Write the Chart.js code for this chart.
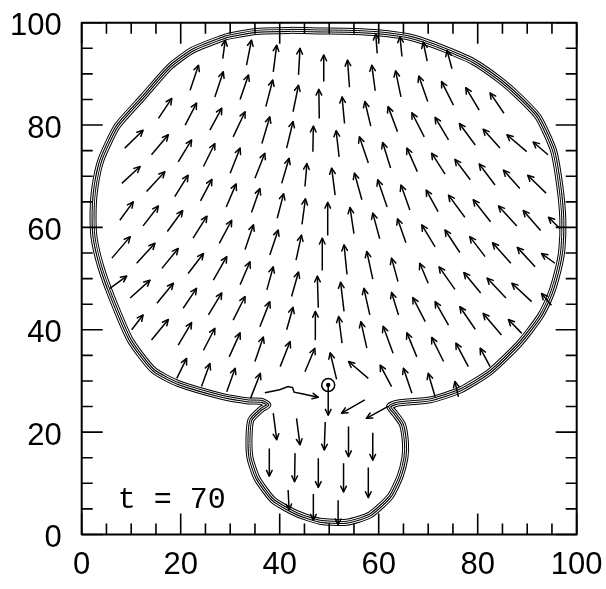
<!DOCTYPE html>
<html lang="en">
<head>
<meta charset="UTF-8" />
<title>Flow field, t = 70</title>
<script src="https://cdn.jsdelivr.net/npm/chart.js"></script>
<style>
  html, body { margin: 0; padding: 0; background: #fff; }
  canvas { display: block; }
</style>
</head>
<body>
<canvas id="chartCanvas" width="606" height="589"></canvas>
<script>
  // tick values (labels on both axes) and minor tick marks
  const tickValues = [0, 20, 40, 60, 80, 100];
  const minorTicks = [5, 10, 15, 25, 30, 35, 45, 50, 55, 65, 70, 75, 85, 90, 95];
  const timeLabel = 't = 70';

  // arrows: [tailX, tailY, tipX, tipY], one list per row of markers
  const row0 = [[59.7,94.0,59.4,97.8],[64.7,93.4,64.3,97.3],[69.8,92.5,69.0,96.2],[74.8,91.0,73.8,94.6]];
  const row1 = [[28.5,93.0,29.0,96.6],[33.3,91.7,34.3,96.6],[38.7,90.4,39.4,95.6],[43.8,89.8,44.1,95.0],
    [48.9,88.5,48.9,93.7],[54.1,87.4,53.7,92.7],[59.3,86.7,58.6,91.7],[64.5,85.5,63.4,90.6],
    [69.9,84.6,68.1,89.6],[75.1,83.9,72.7,88.5],[80.3,82.9,77.6,87.3],[85.3,82.3,82.5,86.3]];
  const row2 = [[21.9,86.8,23.6,91.7],[26.9,85.5,28.6,90.4],[32.0,85.0,33.7,89.8],[37.2,83.6,38.6,88.8],
    [42.7,82.6,43.8,87.8],[48.0,81.3,47.9,87.0],[53.1,80.3,52.6,85.5],[58.4,79.8,57.2,84.6],
    [63.8,78.7,61.9,83.6],[69.2,77.7,66.7,82.4],[74.1,77.1,71.4,81.5],[79.5,76.1,76.3,80.3],
    [84.5,75.5,81.1,79.2],[89.9,74.8,85.9,78.1],[94.2,74.2,91.2,76.7]];
  const row3 = [[15.5,81.3,18.2,85.2],[20.9,80.0,23.2,84.3],[25.9,79.0,28.3,83.3],[30.6,77.7,33.0,82.6],
    [36.4,76.4,38.0,81.6],[41.4,75.5,42.7,80.7],[46.7,74.8,46.8,79.8],[52.0,73.8,51.4,78.9],
    [57.9,72.6,56.1,77.7],[62.4,71.6,60.8,76.6],[67.8,70.9,65.7,75.5],[73.4,70.4,70.7,74.5],
    [78.5,69.3,75.4,73.3],[83.5,68.3,80.3,72.4],[88.5,67.6,85.2,71.2],[93.8,66.7,90.1,70.2]];
  const row4 = [[8.7,75.5,12.4,79.0],[14.1,74.2,17.5,78.1],[19.5,72.8,22.2,77.1],[24.6,71.9,26.9,76.4],
    [30.0,70.6,32.0,75.5],[35.0,69.6,37.0,74.5],[40.4,68.6,41.9,73.5],[45.1,68.0,45.5,72.5],
    [51.2,66.3,50.5,71.6],[56.6,65.4,55.1,70.6],[61.7,64.0,59.8,69.3],[66.3,63.4,64.5,68.3],
    [72.0,63.1,69.6,67.3],[77.4,62.0,74.1,66.3],[82.6,61.1,79.1,65.4],[87.9,60.3,84.2,64.2],
    [92.7,59.4,89.2,63.3],[96.6,59.8,94.3,62.0]];
  const row5 = [[8.1,68.6,11.8,71.9],[13.1,67.0,16.8,70.9],[18.8,66.0,21.5,70.2],[24.0,65.2,26.3,69.4],
    [29.2,64.0,31.2,68.5],[34.3,62.9,36.0,67.6],[39.5,61.8,40.8,66.6],[44.5,60.6,45.2,65.6],
    [49.7,58.4,49.7,64.9],[55.0,58.8,54.2,63.9],[60.2,57.8,58.8,62.8],[65.5,57.0,63.8,61.7],
    [71.4,56.2,68.7,60.5],[76.4,55.1,73.4,59.5],[81.5,54.3,78.4,58.2],[86.7,53.0,83.0,57.0],
    [91.6,52.3,88.0,56.1],[95.6,53.0,92.9,54.9]];
  const row6 = [[7.7,61.4,10.4,65.0],[12.4,60.3,15.5,64.2],[17.3,59.2,20.4,63.3],[22.5,57.9,25.3,62.2],
    [27.8,56.9,30.3,61.4],[33.0,55.7,34.7,60.5],[38.0,54.6,39.7,59.5],[43.3,53.6,44.4,58.5],
    [48.6,51.6,48.6,57.9],[53.6,50.8,53.0,56.6],[58.8,49.9,57.6,55.3],[63.9,49.4,62.6,54.0],
    [70.0,49.1,68.3,53.0],[75.4,47.9,72.2,52.3],[80.6,47.2,77.2,51.2],[85.7,46.2,81.9,50.1],
    [90.9,45.5,86.9,49.1],[94.9,44.8,92.9,47.1]];
  const row7 = [[6.1,54.0,9.8,58.2],[11.1,53.0,14.8,56.9],[16.2,52.0,19.5,55.9],[21.5,51.0,24.6,54.9],
    [26.6,49.7,29.3,54.3],[32.0,48.8,34.0,53.3],[37.4,47.8,38.7,52.3],[42.4,46.5,43.8,51.3],
    [47.8,44.3,47.6,50.5],[53.0,43.6,52.3,49.3],[58.2,42.9,57.0,48.1],[64.0,42.9,62.6,47.3],
    [69.4,41.6,66.9,46.3],[74.1,40.9,71.4,45.5],[79.5,40.1,76.4,44.5],[84.8,39.0,81.1,43.2],
    [88.9,39.3,86.2,42.0]];
  const row8 = [[5.7,48.1,9.1,50.5],[9.8,46.2,13.8,49.7],[15.2,45.2,18.5,49.1],[20.5,44.2,23.2,48.1],
    [25.6,42.9,28.3,47.2],[30.6,41.9,33.0,46.5],[36.0,40.6,38.0,45.5],[41.4,40.0,42.7,44.4],
    [47.3,38.1,47.2,43.6],[52.6,37.4,51.9,42.6],[57.6,36.4,56.4,41.6],[62.9,35.4,60.9,40.7],
    [67.7,34.7,65.7,39.4],[73.1,33.8,70.7,38.5],[78.1,32.8,75.6,37.4],[82.5,32.8,80.5,36.4]];
  const row9 = [[10.1,40.0,12.4,42.9],[14.1,38.0,17.5,42.0],[19.5,37.0,22.2,41.4],[24.6,36.0,26.9,40.3],
    [29.8,34.7,32.0,39.4],[35.0,33.8,36.7,38.6],[40.1,32.8,42.1,37.7],[45.1,31.8,47.1,36.4],
    [51.5,30.3,50.2,35.5],[57.9,30.5,53.9,33.8],[62.6,28.9,60.3,33.1],[66.7,27.6,65.0,32.5],
    [71.4,26.9,70.0,31.5],[76.1,26.9,75.4,29.9]];
  const row10 = [[19.2,30.5,21.2,34.4],[24.2,28.9,25.9,33.4],[29.3,27.9,31.0,32.5],[34.1,26.6,36.1,31.5],
    [49.8,29.2,49.8,23.3],[57.2,26.3,52.5,23.7],[62.0,25.1,57.5,22.7]];
  const bulb1 = [[38.7,23.7,39.4,18.5],[43.4,22.7,44.1,17.5],[49.2,22.0,49.0,16.5],[53.9,21.1,53.9,15.2],[58.8,19.9,58.8,14.5]];
  const bulb2 = [[37.9,16.8,37.9,11.4],[43.1,15.9,43.0,10.3],[47.8,14.9,47.8,9.2],[52.9,13.9,52.9,8.3],[57.9,13.1,57.9,7.2]];
  const bulb3 = [[41.7,8.7,41.9,4.8],[46.8,7.9,46.8,2.8],[51.8,6.7,51.8,1.9]];

  // the wandering marker path ending in an arrow, and the ringed marker
  const wigglePath = [[37.0,27.7],[40.0,28.3],[41.7,28.9],[42.6,28.7],[42.9,27.8],[44.5,27.5],[47.8,26.8]];
  const ringMarker = [49.8, 29.2];

  // interface contour (middle of the band of level lines), clockwise from the top left
  const contour = [[29.3,97.3],[35,98.3],[42,98.5],[48,98.4],[55,98.3],[60.3,98.0],[65.7,97.3],[69.0,96.4],
    [73.7,94.7],[79.1,92.4],[84.5,88.8],[88.3,85.6],[92.2,81.6],[95.3,75.1],[96.6,68.0],[97.2,61.5],
    [97.0,55.6],[96.2,51.5],[94.8,47.0],[92.6,42.6],[88.5,37.4],[82.5,31.8],[76.4,28.2],[70.4,26.3],
    [66.0,25.9],[63.5,25.6],[62.2,25.0],[63.3,23.6],[64.8,21.5],[65.4,18.0],[65.3,15.0],[64.3,11.3],
    [62.3,7.4],[58.2,3.8],[53.5,2.4],[48.1,2.6],[43.4,4.1],[38.7,6.7],[35.4,11.0],[34.0,15.0],
    [33.8,19.0],[34.2,22.4],[36.3,24.5],[37.6,25.3],[36.4,26.0],[33.7,26.1],[28.3,27.0],[19.5,29.5],
    [14.5,32.1],[9.8,38.0],[6.0,46.5],[3.8,52.5],[2.5,58.0],[2.3,63.0],[2.7,68.0],[3.9,73.2],
    [7.1,79.7],[12.4,85.5],[17.8,91.4],[22.5,94.7],[29.3,97.3]];

  const arrows = [].concat(row0, row1, row2, row3, row4, row5, row6, row7, row8, row9, row10, bulb1, bulb2, bulb3);

  const shaftData = [];
  arrows.forEach(a => {
    shaftData.push({ x: a[0], y: a[1] }, { x: a[2], y: a[3] }, { x: null, y: null });
  });
  const wiggleData = wigglePath.map(p => ({ x: p[0], y: p[1] }));
  const contourData = contour.map(p => ({ x: p[0], y: p[1] }));

  const numFont = { family: "'Liberation Sans', Arial, sans-serif", size: 31 };

  function contourSet(color, width, order) {
    return {
      data: contourData, showLine: true, borderColor: color, borderWidth: width,
      pointRadius: 0, tension: 0.2, borderJoinStyle: 'round', order: order
    };
  }

  function head(ctx, x0, y0, x1, y1) {
    const ang = Math.atan2(y1 - y0, x1 - x0);
    const len = 6.5, spread = 0.45;
    ctx.beginPath();
    ctx.moveTo(x1 - len * Math.cos(ang - spread), y1 - len * Math.sin(ang - spread));
    ctx.lineTo(x1, y1);
    ctx.lineTo(x1 - len * Math.cos(ang + spread), y1 - len * Math.sin(ang + spread));
    ctx.stroke();
  }

  const decorations = {
    id: 'decorations',
    afterDatasetsDraw(chart) {
      const { ctx, chartArea: a, scales: { x, y } } = chart;
      ctx.save();
      ctx.strokeStyle = '#000';
      ctx.fillStyle = '#000';
      ctx.lineCap = 'round';
      ctx.lineJoin = 'round';

      // arrow heads
      ctx.lineWidth = 1.5;
      arrows.forEach(r => {
        head(ctx, x.getPixelForValue(r[0]), y.getPixelForValue(r[1]), x.getPixelForValue(r[2]), y.getPixelForValue(r[3]));
      });
      const n = wigglePath.length;
      head(ctx, x.getPixelForValue(wigglePath[n - 2][0]), y.getPixelForValue(wigglePath[n - 2][1]),
        x.getPixelForValue(wigglePath[n - 1][0]), y.getPixelForValue(wigglePath[n - 1][1]));

      // ringed marker
      const cx = x.getPixelForValue(ringMarker[0]), cy = y.getPixelForValue(ringMarker[1]);
      ctx.beginPath();
      ctx.arc(cx, cy, 6.5, 0, Math.PI * 2);
      ctx.stroke();
      ctx.beginPath();
      ctx.arc(cx, cy, 2.2, 0, Math.PI * 2);
      ctx.fill();

      // frame and inward ticks on all four sides
      ctx.lineCap = 'butt';
      ctx.lineWidth = 1.6;
      const mark = (v, len) => {
        const px = x.getPixelForValue(v), py = y.getPixelForValue(v);
        ctx.moveTo(px, a.bottom); ctx.lineTo(px, a.bottom - len);
        ctx.moveTo(px, a.top); ctx.lineTo(px, a.top + len);
        ctx.moveTo(a.left, py); ctx.lineTo(a.left + len, py);
        ctx.moveTo(a.right, py); ctx.lineTo(a.right - len, py);
      };
      ctx.beginPath();
      tickValues.forEach(v => mark(v, 21));
      minorTicks.forEach(v => mark(v, 11));
      ctx.stroke();
      ctx.lineWidth = 2;
      ctx.strokeRect(a.left, a.top, a.right - a.left, a.bottom - a.top);

      // time label
      ctx.font = "30px 'Liberation Mono', 'DejaVu Sans Mono', monospace";
      ctx.textBaseline = 'alphabetic';
      ctx.textAlign = 'left';
      ctx.fillText(timeLabel, x.getPixelForValue(7.3), y.getPixelForValue(5.1));
      ctx.restore();
    }
  };

  const ctx = document.getElementById('chartCanvas').getContext('2d');
  new Chart(ctx, {
    type: 'scatter',
    data: {
      datasets: [
        { data: shaftData, showLine: true, spanGaps: false, borderColor: '#000', borderWidth: 1.5, pointRadius: 0, order: 0 },
        { data: wiggleData, showLine: true, borderColor: '#000', borderWidth: 1.5, pointRadius: 0, order: 0 },
        contourSet('#fff', 1, 1),
        contourSet('#000', 3, 2),
        contourSet('#fff', 5, 3),
        contourSet('#000', 7, 4)
      ]
    },
    options: {
      responsive: false,
      animation: false,
      events: [],
      layout: { padding: { top: 22.7, right: 29.3, left: 0, bottom: 0 } },
      plugins: { legend: { display: false }, tooltip: { enabled: false } },
      scales: {
        x: {
          type: 'linear', min: 0, max: 100,
          afterBuildTicks: s => { s.ticks = tickValues.map(v => ({ value: v })); },
          afterFit: s => { s.height = 54.5; s.paddingLeft = 0; s.paddingRight = 0; },
          grid: { display: false, drawTicks: false },
          border: { display: false },
          ticks: { color: '#000', font: numFont, padding: 12, maxRotation: 0 }
        },
        y: {
          type: 'linear', min: 0, max: 100,
          afterBuildTicks: s => { s.ticks = tickValues.map(v => ({ value: v })); },
          afterFit: s => { s.width = 81.7; s.paddingTop = 0; s.paddingBottom = 0; },
          grid: { display: false, drawTicks: false },
          border: { display: false },
          ticks: { color: '#000', font: numFont, padding: 20, labelOffset: 4 }
        }
      }
    },
    plugins: [decorations]
  });
</script>
</body>
</html>
